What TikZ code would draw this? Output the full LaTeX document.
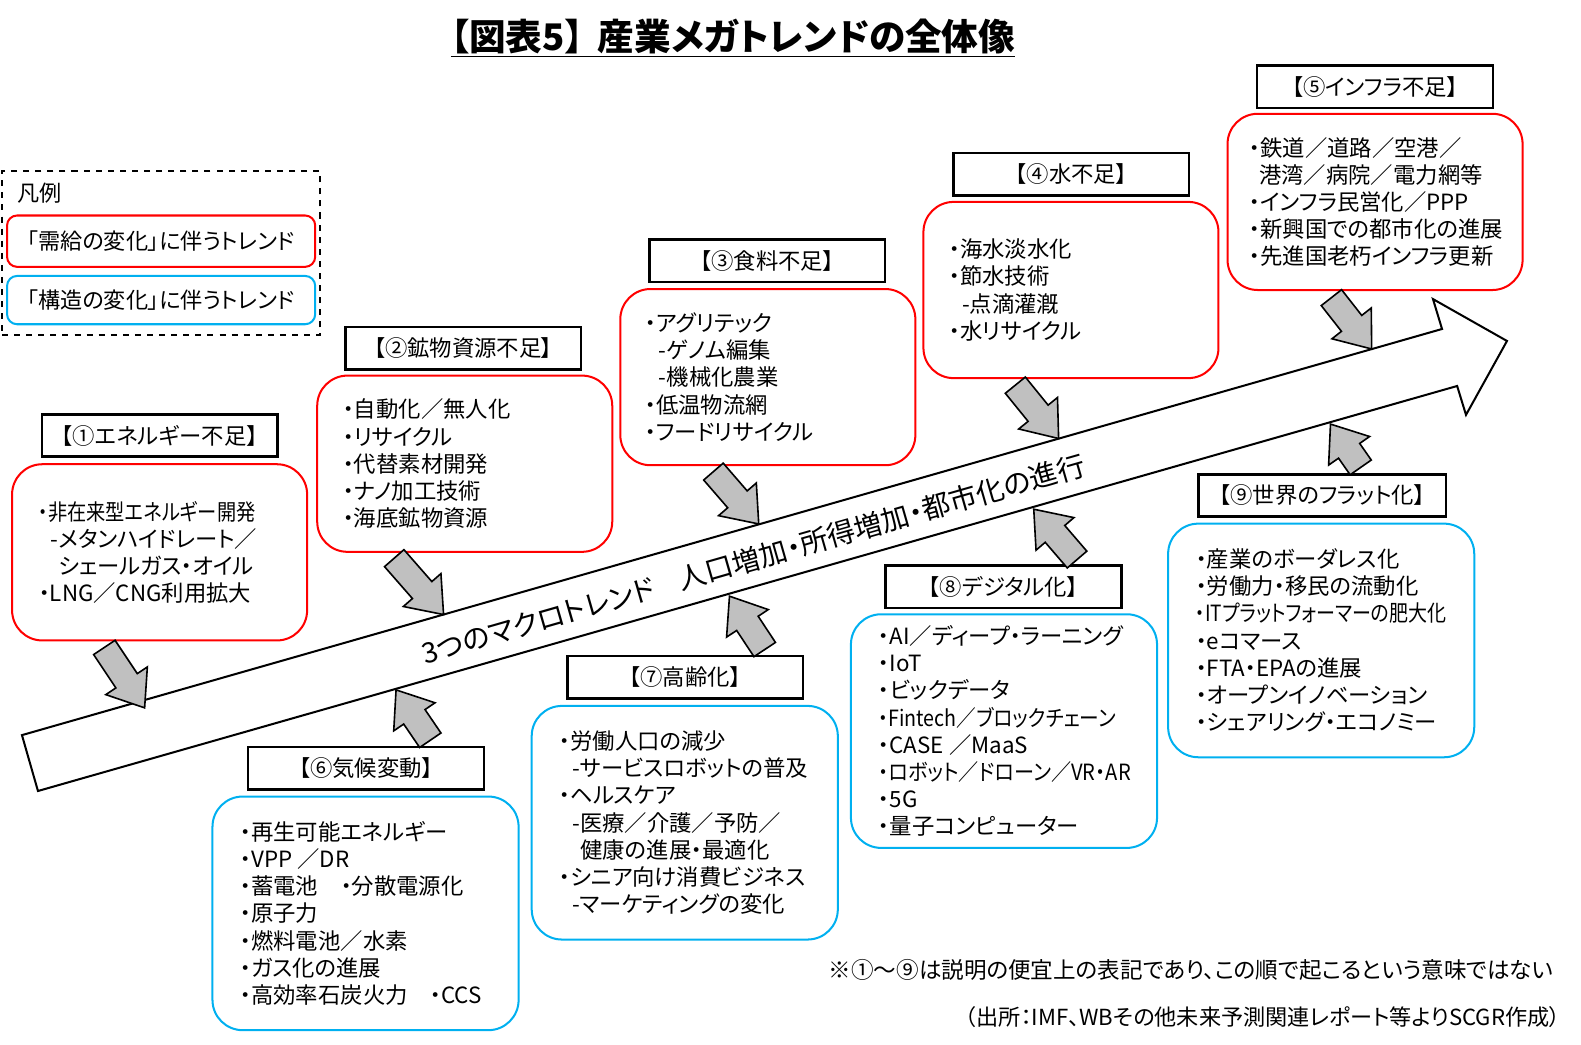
\documentclass[tikz,border=0pt]{standalone}
\usepackage{fontspec}
\setmainfont{Noto Sans CJK JP}[RawFeature=+palt]
\usepackage{xcolor}
\usetikzlibrary{
    shapes.arrows,
    calc,
    positioning
}
\definecolor{trendred}{RGB}{255,0,0}
\definecolor{trendblue}{RGB}{0,176,240}
\definecolor{arrowgray}{RGB}{192,192,192}
\tikzset{
    redbox/.style={draw=trendred, line width=1pt, rounded corners=15pt, minimum width=146.5pt, minimum height=87.5pt},
    bluebox/.style={draw=trendblue, line width=1pt, rounded corners=15pt, minimum width=152pt, minimum height=116pt},
    labelbox/.style={draw, line width=1.2pt, minimum width=117pt, minimum height=21pt, font=\fontsize{11.1}{13}\selectfont},
    itemtext/.style={anchor=west, inner sep=0pt, align=left, font=\fontsize{11.1}{13.5}\selectfont},
    legendbox/.style={line width=1pt, rounded corners=5pt, minimum width=153pt, font=\fontsize{11}{12}\selectfont},
    trendarrow/.style={single arrow, draw, fill=arrowgray, line width=0.8pt, inner xsep=0pt, inner ysep=6pt, single arrow head extend=6pt, single arrow tip angle=75}
}
\newcommand{\trendlink}[3]{%
    \path let \p1=($(#3)-(#2)$), \n1={atan2(\y1,\x1)}, \n2={veclen(\x1,\y1)} in
        node[trendarrow, rotate=\n1, minimum height=\n2] (#1) at ($(#2)!0.5!(#3)$) {};}
\newcommand{\narrow}[2][0.86]{\scalebox{#1}[1]{#2}}

\begin{document}
\begin{tikzpicture}[x=0.5pt, y=-0.5pt]
    \useasboundingbox (0,0) rectangle (1570,1037);

    \node (title) at (728,38) {\fontsize{18.2}{22}\selectfont\bfseries\underline{【図表5】\hspace{0.4em}産業メガトレンドの全体像}};

    \node[draw, dashed, line width=1pt, minimum width=158pt, minimum height=81.5pt] (legend) at (160,251.5) {};
    \node[anchor=west, font=\fontsize{11}{12}\selectfont] (legendtitle) at (10,192) {凡例};
    \node[legendbox, draw=trendred, minimum height=25.5pt] (demand) at (160,239.5) {「需給の変化」に伴うトレンド};
    \node[legendbox, draw=trendblue, minimum height=24pt] (structure) at (160,298) {「構造の変化」に伴うトレンド};

    \draw[line width=1pt, fill=white] (21.8,730) -- (1432,326.7) -- (1423,297) -- (1496.5,338.6) -- (1455.8,412) -- (1447,383.3) -- (37.7,785.5) -- cycle;
    \node[rotate=16, font=\fontsize{14}{16}\selectfont] (macro) at (748,555) {3つのマクロトレンド\hspace{0.9em}人口増加・所得増加・都市化の進行};

    \node[labelbox] (l1) at (158.5,432.5) {【①エネルギー不足】};
    \node[redbox] (b1) at (158.5,548.5) {};
    \node[itemtext] (t1) at (38,548.5) {\narrow{・非在来型エネルギー開発}\\ \hspace*{6pt}-メタンハイドレート／\\ \hspace*{10pt}シェールガス・オイル\\・LNG／CNG利用拡大};

    \node[labelbox] (l2) at (460,346) {【②鉱物資源不足】};
    \node[redbox] (b2) at (461.5,460.5) {};
    \node[itemtext] (t2) at (340,460.5) {・自動化／無人化\\・リサイクル\\・代替素材開発\\・ナノ加工技術\\・海底鉱物資源};

    \node[labelbox] (l3) at (762,259) {【③食料不足】};
    \node[redbox] (b3) at (762.5,374.5) {};
    \node[itemtext] (t3) at (640,374.5) {・アグリテック\\ \hspace*{7pt}-ゲノム編集\\ \hspace*{7pt}-機械化農業\\・低温物流網\\・フードリサイクル};

    \node[labelbox] (l4) at (1064,173) {【④水不足】};
    \node[redbox] (b4) at (1063.5,288) {};
    \node[itemtext] (t4) at (942,288) {・海水淡水化\\・節水技術\\ \hspace*{6.5pt}-点滴灌漑\\・水リサイクル};

    \node[labelbox] (l5) at (1365.5,86) {【⑤インフラ不足】};
    \node[redbox] (b5) at (1365.5,200.5) {};
    \node[itemtext] (t5) at (1240,200.5) {・鉄道／道路／空港／\\ \hspace*{5pt}港湾／病院／電力網等\\・インフラ民営化／PPP\\・新興国での都市化の進展\\・先進国老朽インフラ更新};

    \node[labelbox] (l6) at (363.5,763) {【⑥気候変動】};
    \node[bluebox] (b6) at (363,907) {};
    \node[itemtext] (t6) at (238,907) {・再生可能エネルギー\\・VPP ／DR\\・蓄電池　・分散電源化\\・原子力\\・燃料電池／水素\\・ガス化の進展\\・高効率石炭火力　・CCS};

    \node[labelbox] (l7) at (680.5,672.5) {【⑦高齢化】};
    \node[bluebox] (b7) at (680,817) {};
    \node[itemtext] (t7) at (555,817) {・労働人口の減少\\ \hspace*{6.5pt}-サービスロボットの普及\\・ヘルスケア\\ \hspace*{6.5pt}-医療／介護／予防／\\ \hspace*{10.5pt}健康の進展・最適化\\・シニア向け消費ビジネス\\ \hspace*{6.5pt}-マーケティングの変化};

    \node[labelbox] (l8) at (996.5,582.5) {【⑧デジタル化】};
    \node[bluebox] (b8) at (997,726) {};
    \node[itemtext] (t8) at (872,726) {・AI／ディープ・ラーニング\\・IoT\\・ビックデータ\\\narrow[0.88]{・Fintech／ブロックチェーン}\\・CASE ／MaaS\\\narrow[0.9]{・ロボット／ドローン／VR・AR}\\・5G\\・量子コンピューター};

    \node[labelbox, minimum width=123pt] (l9) at (1313,492) {【⑨世界のフラット化】};
    \node[bluebox] (b9) at (1312,636) {};
    \node[itemtext] (t9) at (1187,636) {・産業のボーダレス化\\・労働力・移民の流動化\\\narrow[0.85]{・ITプラットフォーマーの肥大化}\\・eコマース\\・FTA・EPAの進展\\・オープンイノベーション\\・シェアリング・エコノミー};

    \coordinate (s1) at (99,636);   \coordinate (e1) at (139,696);
    \coordinate (s2) at (386,548);  \coordinate (e2) at (435,604);
    \coordinate (s3) at (703,462);  \coordinate (e3) at (748,514);
    \coordinate (s4) at (1003,376); \coordinate (e4) at (1046,429);
    \coordinate (s5) at (1317,289); \coordinate (e5) at (1357,340);
    \coordinate (s6) at (432,742);  \coordinate (e6) at (398,692);
    \coordinate (s7) at (764,652);  \coordinate (e7) at (729,599);
    \coordinate (s8) at (1075,562); \coordinate (e8) at (1032,512);
    \coordinate (s9) at (1356,471); \coordinate (e9) at (1326,428);
    \foreach \i in {1,...,9}{
        \trendlink{a\i}{s\i}{e\i}
    }

    \node[anchor=east, inner sep=0pt, font=\fontsize{11.2}{13}\selectfont] (note) at (1543,963) {※①～⑨は説明の便宜上の表記であり、この順で起こるという意味ではない};
    \node[anchor=east, inner sep=0pt, font=\fontsize{11}{13}\selectfont] (source) at (1550,1010) {（出所：IMF、WBその他未来予測関連レポート等よりSCGR作成）};
\end{tikzpicture}
\end{document}
